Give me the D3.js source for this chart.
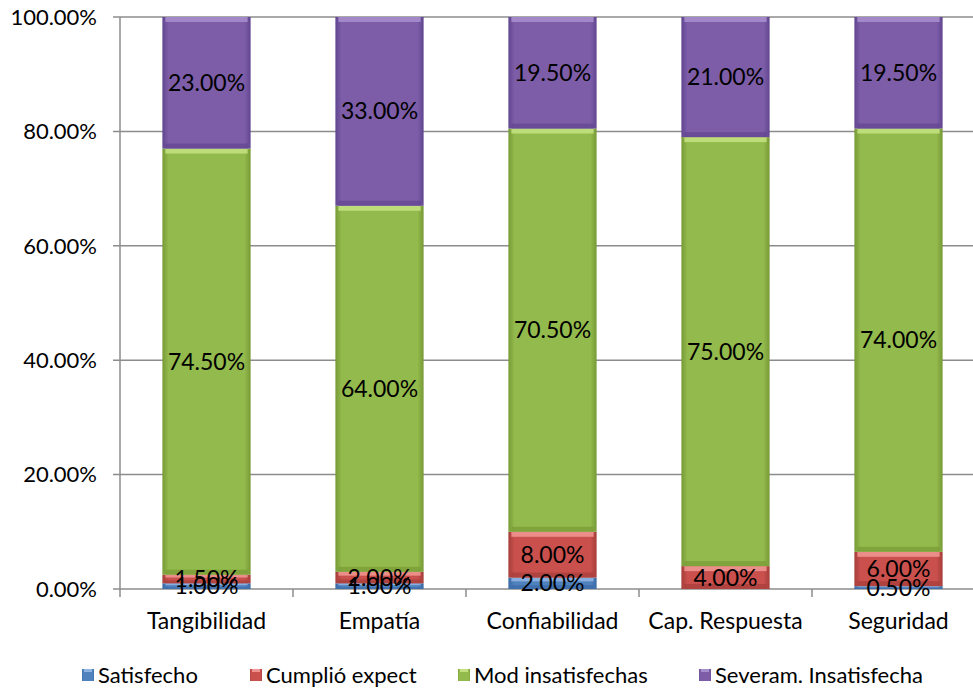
<!DOCTYPE html>
<html><head><meta charset="utf-8">
<script src="https://cdn.jsdelivr.net/npm/d3@7"></script>
<style>body{margin:0;background:#fff}svg{display:block}text{font-family:Lato,"Open Sans",sans-serif}</style>
</head><body><svg id="c" width="973" height="689"></svg>
<script>
const categories = ["Tangibilidad","Empatía","Confiabilidad","Cap. Respuesta","Seguridad"];
const seriesNames = ["Satisfecho","Cumplió expect","Mod insatisfechas","Severam. Insatisfecha"];
const satisfecho = [1.0, 1.0, 2.0, 0.0, 0.5];
const cumplio = [1.5, 2.0, 8.0, 4.0, 6.0];
const modInsat = [74.5, 64.0, 70.5, 75.0, 74.0];
const severam = [23.0, 33.0, 19.5, 21.0, 19.5];
const yTicks = [0,20,40,60,80,100];
const colors = ["#4F81BD","#C9504D","#93BA4C","#7D5DA8"];
const light = ["#8DB3E2","#EE938F","#C2E07F","#A68DCB"];
const dark = ["#3A6AA6","#A53D3A","#779A36","#614590"];

const svg = d3.select("#c");
const x = d3.scaleBand().domain(categories).range([120,985]).paddingInner(0.49).paddingOuter(0.245);
const y = d3.scaleLinear().domain([0,100]).range([589,17]);
const defs = svg.append("defs");
colors.forEach((c,i)=>{
  const g = defs.append("linearGradient").attr("id","g"+i).attr("x1",0).attr("x2",1).attr("y1",0).attr("y2",0);
  g.append("stop").attr("offset","0").attr("stop-color",dark[i]);
  g.append("stop").attr("offset","0.07").attr("stop-color",c);
  g.append("stop").attr("offset","0.93").attr("stop-color",c);
  g.append("stop").attr("offset","1").attr("stop-color",dark[i]);
});

svg.append("g").selectAll("line").data(yTicks).join("line")
  .attr("x1",113).attr("x2",973).attr("y1",d=>y(d)).attr("y2",d=>y(d))
  .attr("stroke","#8c8c8c").attr("stroke-width",1.5);
svg.append("line").attr("x1",120).attr("x2",120).attr("y1",17).attr("y2",597).attr("stroke","#8c8c8c").attr("stroke-width",1.5);
const bounds = [1,2,3,4].map(i=>120+i*x.step());
svg.append("g").selectAll("line").data(bounds).join("line")
  .attr("x1",d=>d).attr("x2",d=>d).attr("y1",589).attr("y2",597).attr("stroke","#8c8c8c").attr("stroke-width",1.5);
svg.append("g").selectAll("text").data(yTicks).join("text")
  .attr("x",97).attr("y",d=>y(d)).attr("dy","0.35em").attr("text-anchor","end")
  .attr("font-size",22).attr("fill","#000").text(d=>d.toFixed(2)+"%");
svg.append("g").selectAll("text").data(categories).join("text")
  .attr("x",d=>x(d)+x.bandwidth()/2).attr("y",629).attr("text-anchor","middle")
  .attr("font-size",23).attr("fill","#000").text(d=>d);

const data = categories.map((c,i)=>({cat:c, Satisfecho:satisfecho[i], "Cumplió expect":cumplio[i], "Mod insatisfechas":modInsat[i], "Severam. Insatisfecha":severam[i]}));
const stacked = d3.stack().keys(seriesNames)(data);
const gb = svg.append("g");
stacked.forEach((s,si)=>{
  s.forEach(d=>{
    const v = d[1]-d[0];
    if(v<=0) return;
    const bx = x(d.data.cat), bw = x.bandwidth();
    const y0 = y(d[1]), h = y(d[0])-y(d[1]);
    gb.append("rect").attr("x",bx).attr("y",y0).attr("width",bw).attr("height",h).attr("fill","url(#g"+si+")");
    const bev = Math.min(5,h/3);
    gb.append("rect").attr("x",bx+3).attr("y",y0).attr("width",bw-6).attr("height",bev).attr("fill",light[si]).attr("opacity",0.9);
    gb.append("rect").attr("x",bx+3).attr("y",y0+h-bev).attr("width",bw-6).attr("height",bev).attr("fill",dark[si]).attr("opacity",0.7);
  });
});
const gl = svg.append("g");
stacked.forEach((s,si)=>{
  s.forEach(d=>{
    const v = d[1]-d[0];
    if(v<=0) return;
    gl.append("text").attr("x",x(d.data.cat)+x.bandwidth()/2).attr("y",(y(d[0])+y(d[1]))/2)
      .attr("dy","0.35em").attr("text-anchor","middle").attr("font-size",23).attr("fill","#000")
      .text(v.toFixed(2)+"%");
  });
});

const legX = [82,250,458,699];
const lg = svg.append("g");
seriesNames.forEach((n,i)=>{
  lg.append("rect").attr("x",legX[i]).attr("y",669).attr("width",12).attr("height",12).attr("fill","url(#g"+i+")");
  lg.append("rect").attr("x",legX[i]+2).attr("y",669).attr("width",8).attr("height",3).attr("fill",light[i]);
  lg.append("text").attr("x",legX[i]+16).attr("y",675).attr("dy","0.35em").attr("font-size",22).attr("fill","#000").text(n);
});
</script></body></html>
